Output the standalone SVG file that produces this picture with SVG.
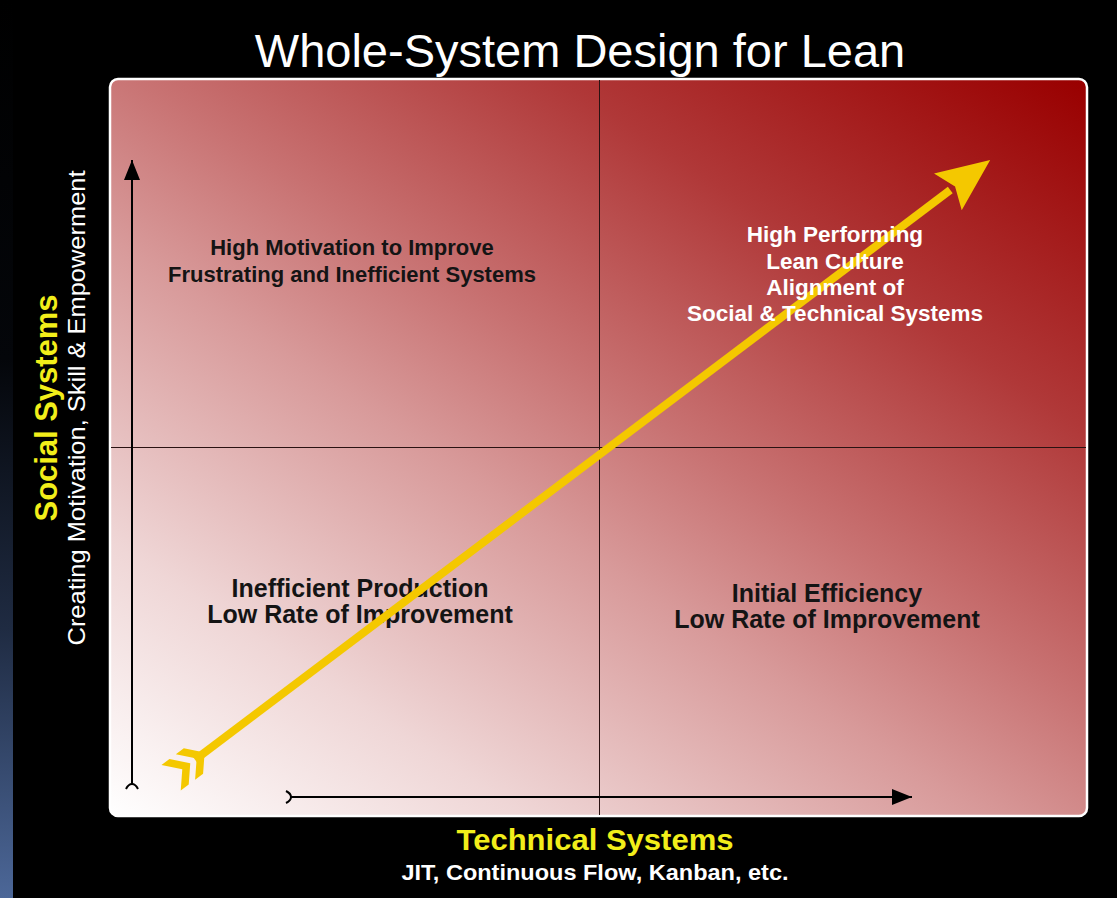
<svg xmlns="http://www.w3.org/2000/svg" width="1117" height="898" viewBox="0 0 1117 898">
  <defs>
    <linearGradient id="strip" x1="0" y1="0" x2="0" y2="1">
      <stop offset="0" stop-color="#000000"/>
      <stop offset="0.4" stop-color="#04060a"/>
      <stop offset="0.7" stop-color="#1f2b42"/>
      <stop offset="1" stop-color="#4c6798"/>
    </linearGradient>
    <linearGradient id="panel" gradientUnits="userSpaceOnUse" x1="110" y1="816" x2="744" y2="-142">
      <stop offset="0" stop-color="#ffffff"/>
      <stop offset="0.2" stop-color="#efd6d6"/>
      <stop offset="0.42" stop-color="#d89a9a"/>
      <stop offset="0.55" stop-color="#c87272"/>
      <stop offset="0.75" stop-color="#b03838"/>
      <stop offset="1" stop-color="#990000"/>
    </linearGradient>
    <marker id="blackHead" viewBox="0 0 20 16" refX="20" refY="8" markerWidth="20" markerHeight="16" markerUnits="userSpaceOnUse" orient="auto">
      <path d="M0,0 L20,8 L0,16 Z" fill="#000"/>
    </marker>
    <style>
      .title { font-family: "Liberation Sans", Arial, sans-serif; font-size: 47px; fill: #ffffff; }
      .q { font-family: "Liberation Sans", Arial, sans-serif; font-weight: bold; text-anchor: middle; }
      .dark { fill: #141414; }
      .light { fill: #ffffff; }
      .yellow { font-family: "Liberation Sans", Arial, sans-serif; font-weight: bold; fill: #f2ee1a; text-anchor: middle; }
      .sub { font-family: "Liberation Sans", Arial, sans-serif; fill: #ffffff; text-anchor: middle; }
      .grid { stroke: #2a1212; stroke-width: 1; }
      .axis { stroke: #000; stroke-width: 2; fill: none; }
    </style>
  </defs>

  <rect x="0" y="0" width="1117" height="898" fill="#000"/>
  <rect x="0" y="0" width="13" height="898" fill="url(#strip)"/>

  <text class="title" x="580" y="67" text-anchor="middle">Whole-System Design for Lean</text>

  <g id="panel-box">
    <rect x="110" y="79" width="977" height="737" rx="8" fill="url(#panel)" stroke="#ffffff" stroke-width="2.5"/>
    <line class="grid" x1="599.5" y1="80" x2="599.5" y2="815"/>
    <line class="grid" x1="111" y1="447.5" x2="1086" y2="447.5"/>
  </g>

  <g id="connectors">
    <line class="axis" x1="132" y1="784" x2="132" y2="160" marker-end="url(#blackHead)"/>
    <path class="axis" d="M126,789 C128,785 130,784 132,784 C134,784 136,785 138,789"/>
    <line class="axis" x1="290" y1="797" x2="912" y2="797" marker-end="url(#blackHead)"/>
    <path class="axis" d="M286,791 C290,793 291,795 291,797 C291,799 290,801 286,803"/>
  </g>

  <g id="q-top-left">
    <text class="q dark" x="352" y="255" font-size="22">High Motivation to Improve</text>
    <text class="q dark" x="352" y="282" font-size="22">Frustrating and Inefficient Systems</text>
  </g>
  <g id="q-bottom-left">
    <text class="q dark" x="360" y="597" font-size="25">Inefficient Production</text>
    <text class="q dark" x="360" y="623" font-size="25">Low Rate of Improvement</text>
  </g>
  <g id="q-bottom-right">
    <text class="q dark" x="827" y="602" font-size="25">Initial Efficiency</text>
    <text class="q dark" x="827" y="628" font-size="25">Low Rate of Improvement</text>
  </g>

  <g id="big-arrow" transform="translate(599,455) rotate(-37.03)" fill="#f4c800">
    <rect x="-506" y="-4" width="946" height="8"/>
    <path d="M490,0 L437,-23 L446,0 L437,23 Z"/>
    <path d="M-518,-16 L-508,-16 L-494,0 L-508,16 L-518,16 L-504,0 Z"/>
    <path d="M-536,-16 L-526,-16 L-512,0 L-526,16 L-536,16 L-522,0 Z"/>
  </g>

  <g id="q-top-right">
    <text class="q light" x="835" y="242" font-size="22.5">High Performing</text>
    <text class="q light" x="835" y="269" font-size="22.5">Lean Culture</text>
    <text class="q light" x="835" y="295" font-size="22.5">Alignment of</text>
    <text class="q light" x="835" y="321" font-size="22.5">Social &amp; Technical Systems</text>
  </g>

  <g id="y-label">
    <text class="yellow" transform="translate(57,408) rotate(-90)" font-size="31" textLength="227" lengthAdjust="spacingAndGlyphs">Social Systems</text>
    <text class="sub" transform="translate(85,408) rotate(-90)" font-size="24" textLength="475" lengthAdjust="spacingAndGlyphs">Creating Motivation, Skill &amp; Empowerment</text>
  </g>

  <g id="x-label">
    <text class="yellow" x="595" y="850" font-size="30" textLength="277" lengthAdjust="spacingAndGlyphs">Technical Systems</text>
    <text class="sub" x="595" y="880" font-size="22" font-weight="bold" textLength="387" lengthAdjust="spacingAndGlyphs">JIT, Continuous Flow, Kanban, etc.</text>
  </g>
</svg>
